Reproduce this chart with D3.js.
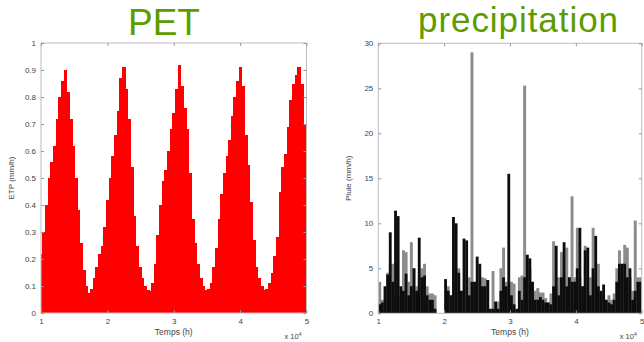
<!DOCTYPE html>
<html><head><meta charset="utf-8">
<script src="https://cdn.jsdelivr.net/npm/d3@7/dist/d3.min.js"></script>
<style>body{margin:0;background:#fff}svg{display:block}</style>
</head><body>
<svg id="c" width="644" height="342"></svg>
<script>
// ---------- data ----------
const titles = ["PET", "precipitation"];
const xTicks = [1, 2, 3, 4, 5];
const xTickLabels = ["1", "2", "3", "4", "5"];
const xAxisLabel = "Temps (h)";
const xExponent = "4";
const petYTicks = [0, 0.1, 0.2, 0.3, 0.4, 0.5, 0.6, 0.7, 0.8, 0.9, 1];
const petYTickLabels = ["0", "0.1", "0.2", "0.3", "0.4", "0.5", "0.6", "0.7", "0.8", "0.9", "1"];
const petYLabel = "ETP (mm/h)";
const rainYTicks = [0, 5, 10, 15, 20, 25, 30];
const rainYTickLabels = ["0", "5", "10", "15", "20", "25", "30"];
const rainYLabel = "Pluie (mm/h)";

// PET sampled every 0.04 x10^4 h from 1.00 to 5.00 (mm/h)
const petStep = 0.04;
const petValues = [
  0.22, 0.30, 0.40, 0.50, 0.56, 0.62, 0.72, 0.80, 0.86, 0.90,
  0.82, 0.72, 0.62, 0.50, 0.38, 0.26, 0.16, 0.10, 0.075, 0.09,
  0.13, 0.17, 0.22, 0.25, 0.32, 0.42, 0.50, 0.58, 0.66, 0.75,
  0.87, 0.91, 0.83, 0.72, 0.54, 0.36, 0.25, 0.17, 0.13, 0.10,
  0.085, 0.08, 0.11, 0.18, 0.29, 0.40, 0.49, 0.53, 0.60, 0.68,
  0.74, 0.83, 0.92, 0.84, 0.76, 0.68, 0.52, 0.35, 0.26, 0.18,
  0.13, 0.10, 0.085, 0.09, 0.11, 0.17, 0.24, 0.35, 0.44, 0.52,
  0.58, 0.64, 0.73, 0.80, 0.86, 0.91, 0.84, 0.66, 0.55, 0.41,
  0.27, 0.17, 0.13, 0.10, 0.085, 0.09, 0.11, 0.15, 0.21, 0.28,
  0.45, 0.54, 0.59, 0.69, 0.79, 0.85, 0.88, 0.91, 0.85, 0.70,
  0.54
];

// Precipitation in bins of 0.04 x10^4 h starting at 1.00 (mm/h)
const rainStep = 0.04;
const rainGray = [
  3.5, 1.5, 1.5, 4.5, 5.5, 5.5, 2, 2, 2, 7.0,
  6.8, 3.5, 7.9, 5, 3, 4, 5, 5.5, 3, 2.2,
  2.2, 2, 0, 0, 0, 0, 3, 2, 0, 5,
  5, 2.5, 0, 0, 4, 29, 3, 0, 0, 4,
  3.9, 3.7, 0, 4.7, 1.3, 1.3, 5, 7.3, 3.5, 2.5,
  3.5, 3.3, 0, 4, 4.2, 25.3, 6.5, 5, 3.5, 2.5,
  2.8, 2.3, 2.3, 1.7, 1.2, 2.2, 8, 4, 4, 6.8,
  4.8, 7.3, 4, 13, 4, 9.5, 4, 3, 7.5, 3,
  4, 9.5, 4, 5.5, 2, 2, 1.5, 2, 1.5, 2.2,
  5, 7, 5.5, 7.6, 7.3, 4, 2.5, 10.3, 4, 4
];
const rainBlack = [
  1.0, 1.2, 3.0, 4.3, 9.0, 3.5, 11.4, 10.8, 3, 2.5,
  4.4, 2, 3, 5, 2.5, 8.4, 4, 4.2, 2, 1.5,
  1.5, 0.5, 0, 0, 0, 3.8, 2.5, 2, 10.7, 10,
  4.5, 2.5, 8.3, 8.1, 2, 3.5, 3.5, 6.3, 5.5, 3,
  3, 3.7, 0.5, 0.5, 1.3, 0.5, 2.5, 4, 3, 15.5,
  2, 1, 0.5, 2.5, 1.5, 4, 6.5, 6.1, 3.5, 1.5,
  1.5, 1.8, 1.5, 1.2, 1.2, 1, 3, 7.5, 2, 4,
  7.9, 3, 4, 3.5, 3.5, 5, 9.5, 3, 7, 7.3,
  2, 5, 8.6, 3, 2.5, 3.2, 1.5, 1.2, 1, 1.5,
  3.5, 5.5, 5.5, 5.5, 4, 5, 1.5, 2.5, 3.5, 3.5
];

// ---------- drawing ----------
const svg = d3.select("#c");
const green = "#5c9c00";
const frameColor = "#bdbdbd";
const textColor = "#444";
const tickFont = "Liberation Sans, Arial, sans-serif";

function panel(cfg) {
  const {left, right, top, bottom, yDomain, yTicks, yTickLabels, yLabel, id} = cfg;
  const x = d3.scaleLinear().domain([1, 5]).range([left, right]);
  const y = d3.scaleLinear().domain(yDomain).range([bottom, top]);
  const g = svg.append("g");
  g.append("clipPath").attr("id", id).append("rect")
    .attr("x", left).attr("y", top).attr("width", right - left).attr("height", bottom - top);
  const plot = g.append("g").attr("clip-path", `url(#${id})`);
  g.append("rect").attr("x", left).attr("y", top).attr("width", right - left).attr("height", bottom - top)
    .attr("fill", "none").attr("stroke", frameColor).attr("stroke-width", 1);
  const fmt = (arr, ticks) => (d) => arr[ticks.indexOf(d)];
  const axB = g.append("g").attr("transform", `translate(0,${bottom})`)
    .call(d3.axisBottom(x).tickValues(xTicks).tickFormat(fmt(xTickLabels, xTicks)).tickSize(-3).tickPadding(5));
  const axT = g.append("g").attr("transform", `translate(0,${top})`)
    .call(d3.axisTop(x).tickValues(xTicks).tickFormat("").tickSize(-3));
  const axL = g.append("g").attr("transform", `translate(${left},0)`)
    .call(d3.axisLeft(y).tickValues(yTicks).tickFormat(fmt(yTickLabels, yTicks)).tickSize(-3).tickPadding(5));
  const axR = g.append("g").attr("transform", `translate(${right},0)`)
    .call(d3.axisRight(y).tickValues(yTicks).tickFormat("").tickSize(-3));
  [axB, axT, axL, axR].forEach(a => {
    a.select(".domain").remove();
    a.selectAll("line").attr("stroke", "#999");
    a.selectAll("text").attr("fill", textColor).attr("font-family", tickFont).attr("font-size", 8);
  });
  g.append("text").attr("x", (left + right) / 2).attr("y", bottom + 22)
    .attr("text-anchor", "middle").attr("fill", textColor).attr("font-family", tickFont).attr("font-size", 8.5)
    .text(xAxisLabel);
  const ex = g.append("text").attr("x", right - 22).attr("y", bottom + 26)
    .attr("fill", textColor).attr("font-family", tickFont).attr("font-size", 7.5);
  ex.append("tspan").text("x 10");
  ex.append("tspan").attr("dy", -3).attr("font-size", 5).text(xExponent);
  g.append("text").attr("transform", `translate(${left - 27},${(top + bottom) / 2}) rotate(-90)`)
    .attr("text-anchor", "middle").attr("fill", textColor).attr("font-family", tickFont).attr("font-size", 8)
    .text(yLabel);
  return {x, y, plot};
}

// ---- PET panel ----
const p1 = panel({left: 41, right: 306.5, top: 43, bottom: 313, yDomain: [0, 1],
  yTicks: petYTicks, yTickLabels: petYTickLabels, yLabel: petYLabel, id: "clipPet"});
const petData = petValues.map((v, i) => ({t: 1 + i * petStep, v}));
p1.plot.selectAll("rect.pet").data(petData).join("rect").attr("class", "pet")
  .attr("x", d => p1.x(d.t - petStep / 2))
  .attr("width", d => p1.x(d.t + petStep / 2) - p1.x(d.t - petStep / 2) + 1)
  .attr("y", d => p1.y(d.v))
  .attr("height", d => p1.y(0) - p1.y(d.v))
  .attr("fill", "#ff0000").attr("shape-rendering", "crispEdges");

svg.append("text").attr("x", 164).attr("y", 35).attr("text-anchor", "middle")
  .attr("font-family", "Liberation Sans, Arial, sans-serif").attr("font-size", 37)
  .attr("fill", green).text(titles[0]);

// ---- precipitation panel ----
const p2 = panel({left: 378.3, right: 641.7, top: 43.3, bottom: 313.3, yDomain: [0, 30],
  yTicks: rainYTicks, yTickLabels: rainYTickLabels, yLabel: rainYLabel, id: "clipRain"});
const rainData = rainGray.map((gv, i) => ({t: 1 + i * rainStep, g: gv, b: rainBlack[i]}));
p2.plot.selectAll("rect.rg").data(rainData).join("rect").attr("class", "rg")
  .attr("x", d => p2.x(d.t)).attr("width", d => p2.x(d.t + rainStep) - p2.x(d.t) + 0.3)
  .attr("y", d => p2.y(d.g)).attr("height", d => p2.y(0) - p2.y(d.g))
  .attr("fill", "#8c8c8c");
p2.plot.selectAll("rect.rb").data(rainData).join("rect").attr("class", "rb")
  .attr("x", d => p2.x(d.t)).attr("width", d => p2.x(d.t + rainStep) - p2.x(d.t) + 0.2)
  .attr("y", d => p2.y(d.b)).attr("height", d => p2.y(0) - p2.y(d.b))
  .attr("fill", "#0d0d0d");

svg.append("text").attr("x", 518).attr("y", 32).attr("text-anchor", "middle")
  .attr("font-family", "Liberation Sans, Arial, sans-serif").attr("font-size", 35)
  .attr("textLength", 200).attr("lengthAdjust", "spacing")
  .attr("fill", green).text(titles[1]);
</script>
</body></html>
